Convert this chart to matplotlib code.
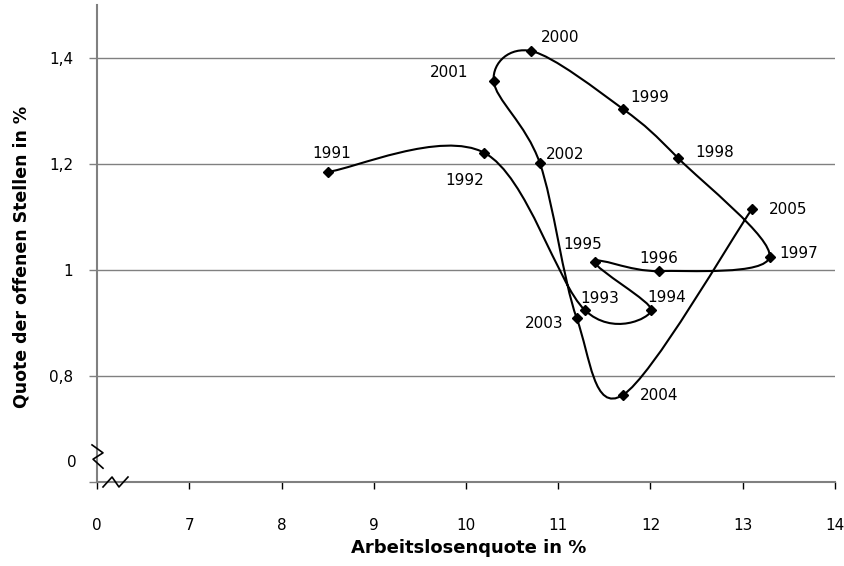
import numpy as np
import matplotlib.pyplot as plt
from matplotlib.path import Path
from matplotlib.patches import PathPatch

# Beveridge-Kurve: Arbeitslosenquote vs. Quote der offenen Stellen
years = [1991, 1992, 1993, 1994, 1995, 1996, 1997, 1998,
         1999, 2000, 2001, 2002, 2003, 2004, 2005]
unemployment = [8.50, 10.20, 11.29, 12.01, 11.40, 12.09, 13.29, 12.30,
                11.70, 10.71, 10.30, 10.80, 11.20, 11.70, 13.10]
vacancies = [1.185, 1.221, 0.924, 0.924, 1.015, 0.998, 1.025, 1.211,
             1.304, 1.413, 1.357, 1.202, 0.909, 0.764, 1.115]

x_ticks = [6, 7, 8, 9, 10, 11, 12, 13, 14]
x_ticklabels = ["0", "7", "8", "9", "10", "11", "12", "13", "14"]
y_ticks = [0.6, 0.8, 1.0, 1.2, 1.4]
y_ticklabels = ["", "0,8", "1", "1,2", "1,4"]

# label offsets in pixels (dx right, dy up)
offsets = {1991: (4, 18), 1992: (-20, -28), 1993: (15, 12), 1994: (15, 13),
           1995: (-12, 18), 1996: (0, 13), 1997: (29, 3), 1998: (37, 6),
           1999: (27, 11), 2000: (29, 14), 2001: (-45, 8), 2002: (25, 8),
           2003: (-33, -5), 2004: (36, 0), 2005: (36, 0)}

plt.rcParams['font.family'] = ['DejaVu Sans']
fig = plt.figure(figsize=(8.45, 5.66), dpi=100)
ax = fig.add_axes([97/845, 84/566, 738/845, 477/566])

grey = "#808080"
ax.set_xlim(6, 14)
ax.set_ylim(0.6, 1.5)
for yv in y_ticks[1:]:
    ax.axhline(yv, color=grey, lw=1.0, zorder=1)

# smoothed line (Catmull-Rom style bezier like Excel)
pts = np.column_stack([unemployment, vacancies])
n = len(pts)
verts = [pts[0]]
codes = [Path.MOVETO]
for i in range(n - 1):
    p0 = pts[max(i - 1, 0)]
    p1 = pts[i]
    p2 = pts[i + 1]
    p3 = pts[min(i + 2, n - 1)]
    verts += [p1 + (p2 - p0) / 6, p2 - (p3 - p1) / 6, p2]
    codes += [Path.CURVE4] * 3
ax.add_patch(PathPatch(Path(verts, codes), facecolor="none",
                       edgecolor="black", lw=1.5, zorder=3))
ax.plot(unemployment, vacancies, linestyle="none", marker="D",
        markersize=5, color="black", zorder=4)

for yr, xv, yv in zip(years, unemployment, vacancies):
    dx, dy = offsets[yr]
    ax.annotate(str(yr), (xv, yv), xytext=(dx, dy), textcoords="offset pixels",
                ha="center", va="center", fontsize=11, color="black")

for s in ["top", "right"]:
    ax.spines[s].set_visible(False)
for s in ["left", "bottom"]:
    ax.spines[s].set_color(grey)
    ax.spines[s].set_linewidth(1.5)

ax.set_xticks(x_ticks)
ax.set_xticklabels(x_ticklabels)
ax.set_yticks(y_ticks)
ax.set_yticklabels(y_ticklabels)
ax.tick_params(axis="x", direction="out", length=5, width=1, color="black",
               pad=21, labelsize=11)
ax.tick_params(axis="y", direction="out", length=6, width=1, color=grey,
               pad=11, labelsize=11)

# the "0" on the broken y axis
ax.annotate("0", (0, 0.636), xycoords=("axes fraction", "data"),
            xytext=(-25, 0), textcoords="offset pixels",
            ha="center", va="center", fontsize=11)

# axis break marks
ax.plot([5.946, 6.065, 5.957, 6.065], [0.670, 0.655, 0.643, 0.626],
        color="black", lw=1.2, clip_on=False, zorder=5)
ax.plot([6.065, 6.163, 6.238, 6.336], [0.5906, 0.6094, 0.5906, 0.6094],
        color="black", lw=1.2, clip_on=False, zorder=5)

fig.text(469/845, 1 - 548/566, "Arbeitslosenquote in %", ha="center",
         va="center", fontsize=13, fontweight="bold")
fig.text(22/845, 1 - 257/566, "Quote der offenen Stellen in %", ha="center",
         va="center", rotation=90, fontsize=12.5, fontweight="bold")

fig.savefig("out.png", dpi=100)
